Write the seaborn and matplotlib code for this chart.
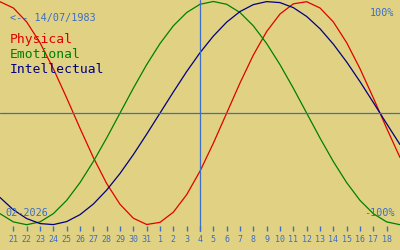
import numpy as np
import pandas as pd
import matplotlib
matplotlib.use("Agg")
import matplotlib.pyplot as plt
import seaborn as sns

# Day offsets from 21 Jan 2026 (-1 .. 29 so the curves reach the edges)
day_offset = list(range(-1, 30))
tick_days = list(range(0, 29))
tick_labels = ["21", "22", "23", "24", "25", "26", "27", "28", "29", "30", "31",
               "1", "2", "3", "4", "5", "6", "7", "8", "9", "10", "11", "12",
               "13", "14", "15", "16", "17", "18"]

physical = [0.998, 0.942, 0.817, 0.631, 0.398, 0.136, -0.136, -0.398, -0.631,
            -0.817, -0.942, -0.998, -0.979, -0.888, -0.731, -0.520, -0.270,
            0.000, 0.270, 0.520, 0.731, 0.888, 0.979, 0.998, 0.942, 0.817,
            0.631, 0.398, 0.136, -0.136, -0.398]
emotional = [-0.901, -0.975, -1.000, -0.975, -0.901, -0.782, -0.623, -0.434,
             -0.223, 0.000, 0.223, 0.434, 0.623, 0.782, 0.901, 0.975, 1.000,
             0.975, 0.901, 0.782, 0.623, 0.434, 0.223, 0.000, -0.223, -0.434,
             -0.623, -0.782, -0.901, -0.975, -1.000]
intellectual = [-0.756, -0.866, -0.945, -0.990, -0.999, -0.972, -0.910, -0.815,
                -0.690, -0.541, -0.372, -0.189, 0.000, 0.189, 0.372, 0.541,
                0.690, 0.815, 0.910, 0.972, 0.999, 0.990, 0.945, 0.866, 0.756,
                0.618, 0.458, 0.282, 0.095, -0.095, -0.282]
today_offset = 14

series_names = ["Physical", "Emotional", "Intellectual"]
series_colors = ["#e00000", "#008000", "#000080"]

BG = "#e0d282"
BLUE = "#3c6ec8"

sns.set_style("white", {"axes.facecolor": BG, "figure.facecolor": BG})
plt.rcParams["font.family"] = ["DejaVu Sans Mono", "DejaVu Sans"]

df = pd.DataFrame({
    "day": day_offset * 3,
    "value": physical + emotional + intellectual,
    "series": [s for s in series_names for _ in day_offset],
})

W, H = 400, 250
fig = plt.figure(figsize=(W / 100, H / 100), dpi=100)
fig.patch.set_facecolor(BG)
ax_h = 225
ax = fig.add_axes([0, (H - ax_h) / H, 1, ax_h / H])
ax.set_facecolor(BG)

sns.lineplot(data=df, x="day", y="value", hue="series", hue_order=series_names,
             palette=series_colors, ax=ax, legend=False, linewidth=0.9,
             estimator=None, sort=True)
for ln in ax.lines:
    ln.set_clip_on(False)

ax.axhline(0, color=BLUE, lw=0.9)
ax.axvline(today_offset, ymin=-6 / ax_h, ymax=1, color=BLUE, lw=0.9, clip_on=False)

ax.set_xlim(-1, 29)
ax.set_ylim(-1.0027, 1.0134)
for sp in ax.spines.values():
    sp.set_visible(False)
ax.set_xticks(tick_days)
ax.set_xticklabels(tick_labels)
ax.set_yticks([])
ax.set_xlabel("")
ax.set_ylabel("")
ax.tick_params(axis="x", which="major", length=0, labelcolor=BLUE,
               labelsize=6, pad=7.0, labelbottom=True)
# small tick marks under each day
ax.vlines(tick_days, -0.5 / ax_h, -6 / ax_h, transform=ax.get_xaxis_transform(),
          colors=BLUE, lw=1.0, clip_on=False, zorder=5)

def ftext(x, y, s, **kw):
    fig.text(x / W, 1 - y / H, s, va="baseline", **kw)

ftext(10, 21, "<-- 14/07/1983", color=BLUE, fontsize=7.3, ha="left")
ftext(10, 43, "Physical", color=series_colors[0], fontsize=9.4, ha="left")
ftext(10, 58, "Emotional", color=series_colors[1], fontsize=9.4, ha="left")
ftext(10, 73, "Intellectual", color=series_colors[2], fontsize=9.4, ha="left")
ftext(394, 16, "100%", color=BLUE, fontsize=7.3, ha="right")
ftext(395, 215.5, "-100%", color=BLUE, fontsize=7.3, ha="right")
ftext(5, 215.5, "02-2026", color=BLUE, fontsize=7.3, ha="left")

fig.savefig("out.png", dpi=100, facecolor=BG)
